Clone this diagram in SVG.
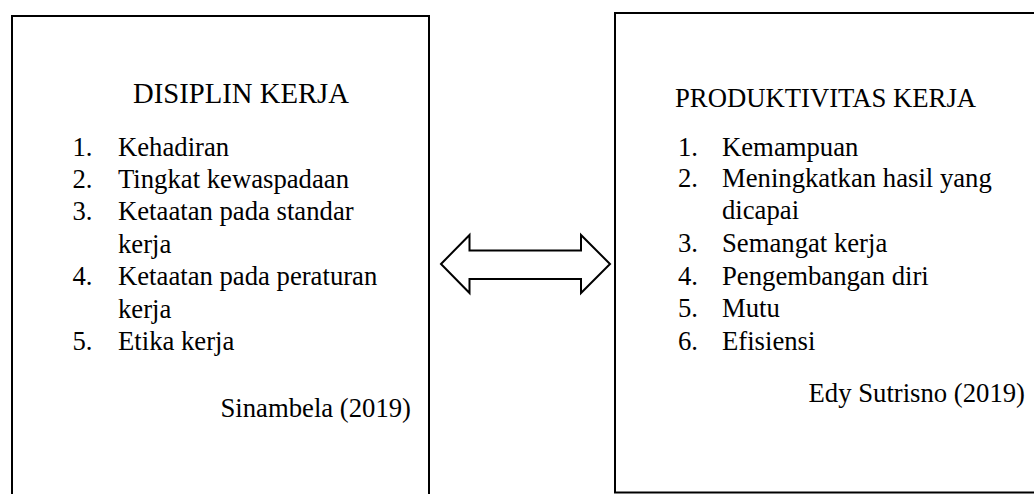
<svg xmlns="http://www.w3.org/2000/svg" width="1034" height="494" viewBox="0 0 1034 494">
<style>
.box{fill:#fff;stroke:#000;stroke-width:2}
.t{font-family:"Liberation Serif","Times New Roman",serif;font-size:26.7px;fill:#000}
.end{text-anchor:end}
</style>
<rect width="1034" height="494" fill="#fff"/>
<g id="disiplin">
<rect class="box" x="12" y="16" width="417" height="500"/>
<text class="t" x="133" y="103" style="font-size:28.7px">DISIPLIN KERJA</text>
<text class="t" x="72.5" y="155.7">1.</text><text class="t" x="118" y="155.7">Kehadiran</text>
<text class="t" x="72.5" y="188">2.</text><text class="t" x="118" y="188">Tingkat kewaspadaan</text>
<text class="t" x="72.5" y="220.4">3.</text><text class="t" x="118" y="220.4">Ketaatan pada standar</text>
<text class="t" x="118" y="252.8">kerja</text>
<text class="t" x="72.5" y="285.1">4.</text><text class="t" x="118" y="285.1">Ketaatan pada peraturan</text>
<text class="t" x="118" y="317.5">kerja</text>
<text class="t" x="72.5" y="349.8">5.</text><text class="t" x="118" y="349.8">Etika kerja</text>
<text class="t end" x="411" y="416.7">Sinambela (2019)</text>
</g>
<g id="produktivitas">
<rect class="box" x="615" y="13" width="440" height="479.5"/>
<text class="t" x="675" y="107.3">PRODUKTIVITAS KERJA</text>
<text class="t" x="678" y="155.7">1.</text><text class="t" x="722" y="155.7">Kemampuan</text>
<text class="t" x="678" y="187">2.</text><text class="t" x="722" y="187">Meningkatkan hasil yang</text>
<text class="t" x="722" y="219">dicapai</text>
<text class="t" x="678" y="251.7">3.</text><text class="t" x="722" y="251.7">Semangat kerja</text>
<text class="t" x="678" y="285">4.</text><text class="t" x="722" y="285">Pengembangan diri</text>
<text class="t" x="678" y="316.9">5.</text><text class="t" x="722" y="316.9">Mutu</text>
<text class="t" x="678" y="349.8">6.</text><text class="t" x="722" y="349.8">Efisiensi</text>
<text class="t end" x="1025" y="402.3">Edy Sutrisno (2019)</text>
</g>
<g id="connectors">
<polygon class="box" points="441,264 469.5,235 469.5,250.5 581,250.5 581,235 610,264 581,293 581,279 469.5,279 469.5,293"/>
</g>
</svg>
